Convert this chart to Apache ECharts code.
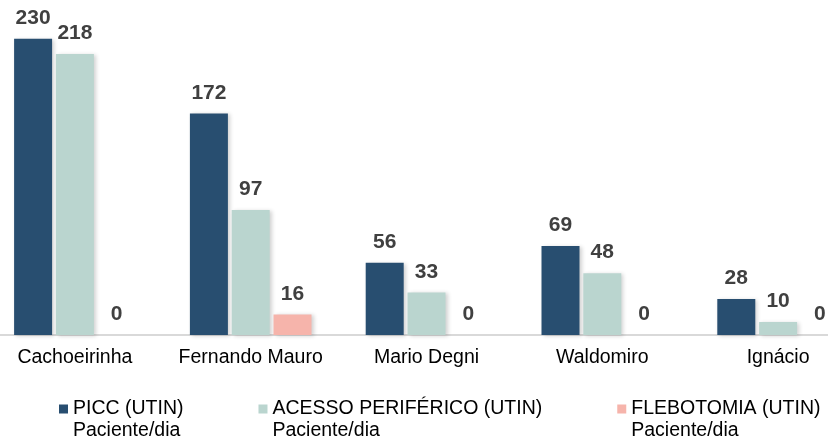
<!DOCTYPE html>
<html>
<head>
<meta charset="utf-8">
<script src="https://cdn.jsdelivr.net/npm/echarts@6/dist/echarts.min.js"></script>
<style>
  html, body { margin: 0; padding: 0; background: #fff; overflow: hidden; }
  /* o gráfico original é cortado nas laterais */
  #chart { width: 879px; height: 438px; margin-left: -13px; }
</style>
</head>
<body>
<div id="chart"></div>
<script>
// dados
var categories = ['Cachoeirinha', 'Fernando Mauro', 'Mario Degni', 'Waldomiro', 'Ignácio'];
var picc = [230, 172, 56, 69, 28];
var acesso = [218, 97, 33, 48, 10];
var flebotomia = [0, 16, 0, 0, 0];
var seriesNames = ['PICC (UTIN)\nPaciente/dia', 'ACESSO PERIFÉRICO (UTIN)\nPaciente/dia', 'FLEBOTOMIA (UTIN)\nPaciente/dia'];
var colors = ['#284e70', '#bad5cf', '#f6b4ab'];

var font = 'Liberation Sans, Arial, sans-serif';
var myChart = echarts.init(document.getElementById('chart'));

function makeSeries(name, data, color) {
  return {
    name: name,
    type: 'bar',
    data: data,
    barWidth: 38,
    barGap: '10%',
    itemStyle: {
      color: color,
      shadowColor: 'rgba(0,0,0,0.18)',
      shadowBlur: 4,
      shadowOffsetX: 2,
      shadowOffsetY: 1
    },
    label: {
      show: true,
      position: 'top',
      distance: 10,
      color: '#404040',
      fontWeight: 'bold',
      fontSize: 21,
      fontFamily: font
    }
  };
}

var option = {
  animation: false,
  color: colors,
  grid: {
    left: 0,
    right: 0,
    top: 0,
    bottom: 103
  },
  legend: {
    left: 72,
    top: 398,
    padding: 0,
    itemWidth: 9,
    itemHeight: 31,
    itemGap: 75,
    // quadrado no topo, alinhado com a primeira linha do texto
    icon: 'path://M0,0H9V9H0Z M0,31H0.01',
    textStyle: {
      color: '#000',
      fontSize: 19.5,
      fontFamily: font,
      lineHeight: 22
    },
    data: seriesNames
  },
  xAxis: {
    type: 'category',
    data: categories,
    axisLine: { show: true, lineStyle: { color: '#d9d9d9', width: 2 } },
    axisTick: { show: false },
    axisLabel: {
      color: '#000',
      fontSize: 19.5,
      fontFamily: font,
      margin: 13,
      interval: 0
    }
  },
  yAxis: {
    type: 'value',
    min: 0,
    max: 260,
    show: false,
    splitLine: { show: false }
  },
  series: [
    makeSeries(seriesNames[0], picc, colors[0]),
    makeSeries(seriesNames[1], acesso, colors[1]),
    makeSeries(seriesNames[2], flebotomia, colors[2])
  ]
};

myChart.setOption(option);
</script>
</body>
</html>
